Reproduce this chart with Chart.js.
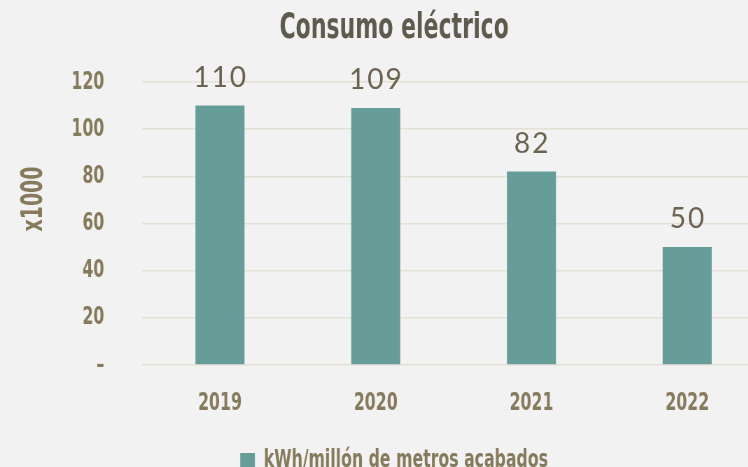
<!DOCTYPE html>
<html>
<head>
<meta charset="utf-8">
<script src="https://cdn.jsdelivr.net/npm/chart.js@4/dist/chart.umd.min.js"></script>
<style>
  html, body { margin: 0; padding: 0; background: #f2f2f2; overflow: hidden; }
  /* el lienzo se dibuja más ancho y se comprime en X para imitar la fuente condensada */
  #wrap { width: 1126px; height: 483px; position: relative; transform: scaleX(0.7); transform-origin: 0 0; }
</style>
</head>
<body>
<div id="wrap"><canvas id="grafico"></canvas></div>
<script>
// datos del gráfico
const anos = ['2019', '2020', '2021', '2022'];
const consumo = [110, 109, 82, 50];
const etiquetasY = ['–', '20', '40', '60', '80', '100', '120'];
const serieNombre = 'kWh/millón de metros acabados';
const titulo = 'Consumo eléctrico';
const tituloEje = 'x1000';

const escalaX = 0.7; // misma que el transform del CSS
const fuenteCond = '"DejaVu Sans Condensed", "DejaVu Sans", sans-serif';
const colorTexto = '#857b5c';
const colorBarra = '#679d99';

// etiquetas encima de las barras (sin comprimir) y título del eje Y
const textosExtra = {
    id: 'textosExtra',
    afterDatasetsDraw(chart) {
        const ctx = chart.ctx;
        const meta = chart.getDatasetMeta(0);
        ctx.save();
        ctx.font = '400 28px Lato, sans-serif';
        ctx.fillStyle = '#6b6350';
        ctx.textAlign = 'center';
        ctx.textBaseline = 'alphabetic';
        if ('letterSpacing' in ctx) ctx.letterSpacing = '2px';
        meta.data.forEach(function(bar, i) {
            ctx.save();
            ctx.translate(bar.x + 1, bar.y - 19);
            ctx.scale(1 / escalaX, 1);
            ctx.fillText(String(consumo[i]), 0, 0);
            ctx.restore();
        });
        ctx.restore();

        // x1000 girado, condensado a lo largo del texto
        ctx.save();
        ctx.font = 'bold 30px ' + fuenteCond;
        ctx.fillStyle = colorTexto;
        ctx.textAlign = 'center';
        ctx.textBaseline = 'middle';
        ctx.translate(34 / escalaX, 199);
        ctx.scale(1 / escalaX, 1);
        ctx.rotate(-Math.PI / 2);
        ctx.scale(escalaX, 1);
        ctx.fillText(tituloEje, 0, 0);
        ctx.restore();
    }
};

new Chart(document.getElementById('grafico'), {
    type: 'bar',
    data: {
        labels: anos,
        datasets: [{
            label: serieNombre,
            data: consumo,
            backgroundColor: colorBarra,
            borderWidth: 0,
            categoryPercentage: 1,
            barPercentage: 0.315
        }]
    },
    options: {
        responsive: true,
        maintainAspectRatio: false,
        animation: false,
        layout: { padding: { left: 33, right: 33, top: 5, bottom: 0 } },
        scales: {
            x: {
                grid: { display: false },
                border: { display: false },
                ticks: {
                    color: colorTexto,
                    font: { family: fuenteCond, size: 25, weight: 'bold' },
                    padding: 15
                }
            },
            y: {
                min: 0,
                max: 120,
                afterFit: function(scale) { scale.width = 170; },
                grid: { color: '#e4e0d6', lineWidth: 1.5, drawTicks: false },
                border: { display: false },
                ticks: {
                    stepSize: 20,
                    color: colorTexto,
                    font: { family: fuenteCond, size: 25, weight: 'bold' },
                    padding: 54,
                    callback: function(value) { return etiquetasY[value / 20]; }
                }
            }
        },
        plugins: {
            title: {
                display: true,
                text: titulo,
                color: '#5e5a4e',
                font: { family: fuenteCond, size: 35, weight: 'bold' },
                padding: { top: 3, bottom: 32 }
            },
            legend: {
                position: 'bottom',
                labels: {
                    color: colorTexto,
                    font: { family: fuenteCond, size: 25, weight: 'bold' },
                    boxWidth: 21,
                    boxHeight: 15,
                    padding: 15
                }
            },
            tooltip: { enabled: false }
        }
    },
    plugins: [textosExtra]
});
</script>
</body>
</html>
